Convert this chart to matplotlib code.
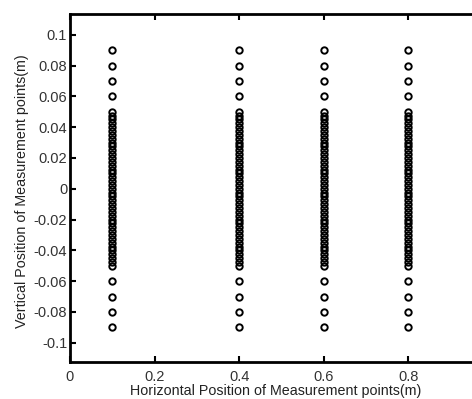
import numpy as np
import matplotlib

matplotlib.use("Agg")
import matplotlib.pyplot as plt

plt.rcParams["font.family"] = ["Liberation Sans", "DejaVu Sans"]

# measurement columns (m)
x_positions = [0.1, 0.4, 0.6, 0.8]
# vertical positions: sparse at the ends, dense (2.5 mm) in the middle
y_outer_top = [0.09, 0.08, 0.07, 0.06]
y_dense = [round(0.05 - 0.0025 * i, 4) for i in range(41)]
y_outer_bottom = [-0.06, -0.07, -0.08, -0.09]
y_positions = y_outer_top + y_dense + y_outer_bottom

xticks = [0, 0.2, 0.4, 0.6, 0.8]
xticklabels = ["0", "0.2", "0.4", "0.6", "0.8"]
yticks = [0.1, 0.08, 0.06, 0.04, 0.02, 0, -0.02, -0.04, -0.06, -0.08, -0.1]
yticklabels = ["0.1", "0.08", "0.06", "0.04", "0.02", "0", "-0.02", "-0.04", "-0.06", "-0.08", "-0.1"]

fig = plt.figure(figsize=(4.72, 3.99), dpi=100)
# the axes run past the right edge of the picture, as in the original crop
ax = fig.add_axes([70 / 472, 37 / 399, 423 / 472, 348 / 399])

for xp in x_positions:
    ax.plot([xp] * len(y_positions), y_positions, "o", markersize=4.6,
            markerfacecolor="none", markeredgecolor="black", markeredgewidth=1.4,
            linestyle="none")

ax.set_xlim(0, 1)
ax.set_ylim(-0.1125, 0.1135)
ax.set_xticks(xticks)
ax.set_xticklabels(xticklabels)
ax.set_yticks(yticks)
ax.set_yticklabels(yticklabels)
ax.tick_params(direction="in", top=True, right=True, length=4, width=1.5,
               labelsize=10.5, colors="black", labelcolor="#333333")
ax.tick_params(axis="x", pad=5.5)
ax.tick_params(axis="y", pad=2)
for spine in ax.spines.values():
    spine.set_linewidth(2)
ax.set_xlabel("Horizontal Position of Measurement points(m)", fontsize=10.3, color="#222222", labelpad=0.5)
ax.set_ylabel("Vertical Position of Measurement points(m)", fontsize=10.3, color="#222222", labelpad=3.5)
ax.xaxis.label.set_x(0.486)
ax.yaxis.label.set_y(0.49)

fig.savefig("out.png", dpi=100)
plt.close(fig)
